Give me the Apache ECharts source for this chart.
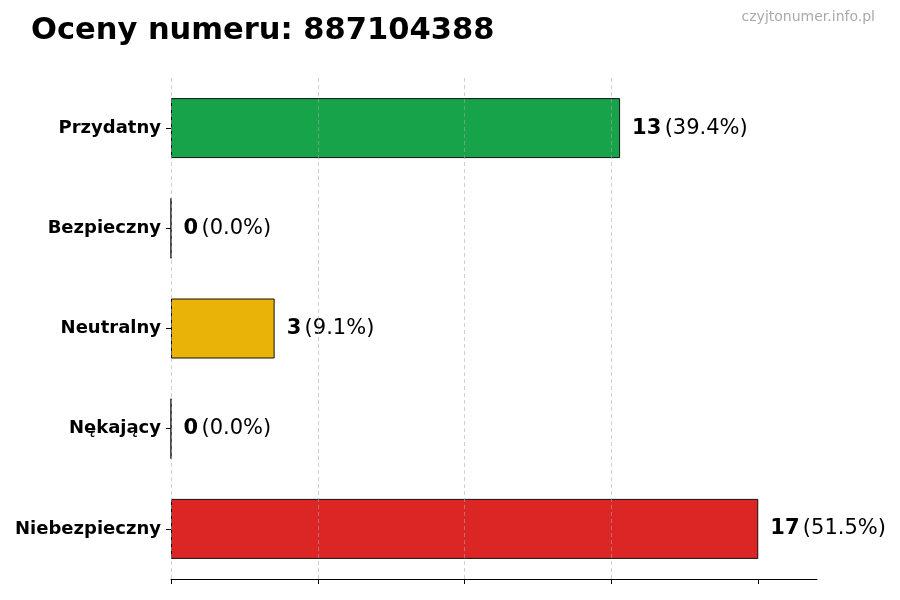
<!DOCTYPE html>
<html><head><meta charset="utf-8">
<script src="https://cdn.jsdelivr.net/npm/echarts@6/dist/echarts.min.js"></script>
<style>html,body{margin:0;padding:0;background:#fff}#c{width:900px;height:600px}</style>
</head><body><div id="c"></div>
<script>
const categories = ['Przydatny', 'Bezpieczny', 'Neutralny', 'Nękający', 'Niebezpieczny'];
const values = [13, 0, 3, 0, 17];
const colors = ['#16a34a', '#4b5563', '#eab308', '#6b7280', '#dc2626'];
const xTicks = [0, 4.25, 8.5, 12.75, 17];
const titleText = 'Oceny numeru: 887104388';
const watermark = 'czyjtonumer.info.pl';

const total = values.reduce((a, b) => a + b, 0);
const FONT = '"DejaVu Sans", sans-serif';
const chart = echarts.init(document.getElementById('c'), null, {renderer: 'canvas'});
chart.setOption({
  animation: false,
  backgroundColor: '#fff',
  title: {
    text: titleText, left: 26, top: 11,
    textStyle: {fontFamily: FONT, fontSize: 30.5, fontWeight: 'bold', color: '#000'}
  },
  graphic: [{
    type: 'text', right: 25, top: 10,
    style: {text: watermark, fontFamily: FONT, fontSize: 14, fill: '#aaaaaa'}
  }],
  grid: {left: 171, right: 83, top: 78, bottom: 21, containLabel: false},
  xAxis: {
    type: 'value', min: 0, max: 18.7, interval: 4.25, z: 5,
    axisLine: {show: true, lineStyle: {color: '#000', width: 1}},
    axisTick: {show: true, length: 5, customValues: xTicks, lineStyle: {color: '#000'}},
    axisLabel: {show: false},
    splitLine: {show: true, showMaxLine: false, lineStyle: {color: 'rgba(170,170,170,0.55)', type: [4, 3], width: 1}}
  },
  yAxis: {
    type: 'category', data: categories, inverse: true,
    axisLine: {show: false},
    axisTick: {show: true, length: 5, alignWithLabel: true, lineStyle: {color: '#000'}},
    axisLabel: {margin: 10, fontFamily: FONT, fontSize: 18, fontWeight: 'bold', color: '#000'},
    splitLine: {show: false}
  },
  series: [{
    type: 'bar', barWidth: 60,
    data: values.map((v, i) => ({value: v, itemStyle: {color: colors[i]}})),
    itemStyle: {borderColor: '#111', borderWidth: 1},
    label: {
      show: true, position: 'right', distance: 12,
      formatter: p => '{b|' + p.value + '} {n|(' + (p.value / total * 100).toFixed(1) + '%)}',
      rich: {
        b: {fontFamily: FONT, fontSize: 21, fontWeight: 'bold', color: '#000'},
        n: {fontFamily: FONT, fontSize: 21, color: '#000'}
      }
    }
  }]
});
</script></body></html>
